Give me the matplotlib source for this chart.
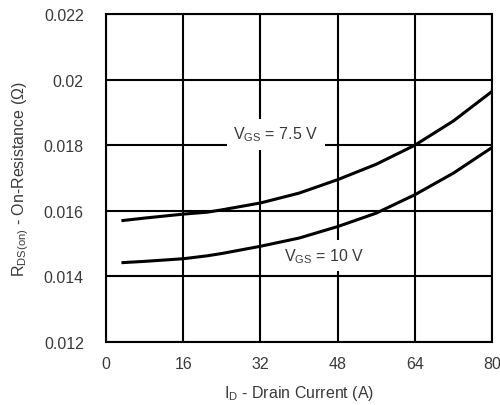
import matplotlib
matplotlib.use("Agg")
import matplotlib.pyplot as plt

plt.rcParams["font.family"] = ["Liberation Sans", "DejaVu Sans"]
plt.rcParams["mathtext.fontset"] = "custom"
plt.rcParams["mathtext.rm"] = "Liberation Sans"
plt.rcParams["mathtext.it"] = "Liberation Sans"

# Drain current (A) and on-resistance (ohm) for two gate voltages
drain_current = [3.2, 8, 16, 21, 24, 32, 40, 48, 56, 64, 72, 80]
rds_vgs_7v5 = [0.0157, 0.01578, 0.0159, 0.01596, 0.01603, 0.01624, 0.01654,
               0.01695, 0.01742, 0.0180, 0.01874, 0.01964]
rds_vgs_10v = [0.01442, 0.01446, 0.01454, 0.01463, 0.0147, 0.01492, 0.01517,
               0.01552, 0.01593, 0.01649, 0.01715, 0.01793]

x_ticks = [0, 16, 32, 48, 64, 80]
y_ticks = [0.012, 0.014, 0.016, 0.018, 0.020, 0.022]
y_tick_labels = ["0.012", "0.014", "0.016", "0.018", "0.02", "0.022"]

text_color = "#3a3a3a"

fig = plt.figure(figsize=(5.0, 4.06), dpi=100)
ax = fig.add_axes([0.212, 0.155, 0.772, 0.808])

ax.plot(drain_current, rds_vgs_7v5, color="black", lw=2.2, zorder=3,
        solid_capstyle="butt")
ax.plot(drain_current, rds_vgs_10v, color="black", lw=2.2, zorder=3,
        solid_capstyle="butt")

ax.set_xlim(0, 80)
ax.set_ylim(0.012, 0.022)
ax.set_xticks(x_ticks)
ax.set_yticks(y_ticks)
ax.set_yticklabels(y_tick_labels)
ax.grid(True, color="black", lw=1.5)
ax.set_axisbelow(True)
for sp in ax.spines.values():
    sp.set_linewidth(1.5)
ax.tick_params(length=0, labelsize=11.5, colors=text_color, pad=10)
ax.tick_params(axis="y", pad=16)

ax.set_xlabel(r"I$_\mathrm{D}$ - Drain Current (A)", fontsize=11.5,
              color=text_color, labelpad=9)
ax.set_ylabel(r"R$_\mathrm{DS(on)}$ - On-Resistance (Ω)", fontsize=11.5,
              color=text_color, labelpad=9)

box = dict(facecolor="white", edgecolor="none", pad=4.5)
ax.text(35.2, 0.01834, r"V$_\mathrm{GS}$ = 7.5 V", fontsize=11.5,
        color=text_color, ha="center", va="center", bbox=box, zorder=2)
ax.text(45.2, 0.01463, r"V$_\mathrm{GS}$ = 10 V", fontsize=11.5,
        color=text_color, ha="center", va="center", bbox=box, zorder=2)

fig.savefig("out.png", dpi=100)
